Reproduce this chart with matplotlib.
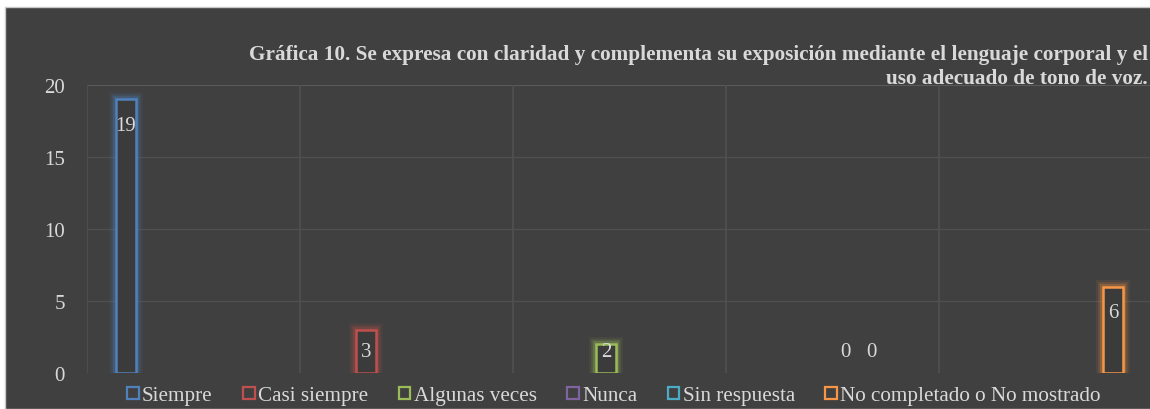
import matplotlib.pyplot as plt
from matplotlib.patches import Rectangle, Patch

# Datos de la gráfica
categorias = ['Siempre', 'Casi siempre', 'Algunas veces', 'Nunca',
              'Sin respuesta', 'No completado o No mostrado']
valores = [19, 3, 2, 0, 0, 6]
colores = ['#4F81BD', '#C0504D', '#9BBB59', '#8064A2', '#4BACC6', '#F79646']
posiciones = [0.183, 1.31, 2.437, 3.563, 3.685, 4.817]
titulo = ('Gráfica 10. Se expresa con claridad y complementa su exposición '
          'mediante el lenguaje corporal y el\nuso adecuado de tono de voz.')

fondo = '#404040'
texto = '#d9d9d9'
plt.rcParams['font.family'] = ['Liberation Serif', 'DejaVu Serif']

fig = plt.figure(figsize=(11.5, 4.1), dpi=100)
fig.patch.set_facecolor('white')
fig.patches.append(Rectangle((5 / 1150, 0), 1, (410 - 8) / 410, transform=fig.transFigure,
                             facecolor=fondo, edgecolor='#c8c8c8', linewidth=1, zorder=-5))

ax = fig.add_axes([87 / 1150, 36 / 410, 1063 / 1150, 288 / 410])
ax.set_facecolor(fondo)
ax.set_xlim(0, 1063 / 213)
ax.set_ylim(0, 20)
for s in ax.spines.values():
    s.set_visible(False)

# Rejilla
for y in [5, 10, 15]:
    ax.axhline(y, color='#4f4f4f', linewidth=1, zorder=1)
ax.axhline(20, color='#5a5a5a', linewidth=1.5, zorder=1)
for x in range(0, 5):
    ax.axvline(x, color='#505050', linewidth=1.2, zorder=1)

ax.set_yticks([0, 5, 10, 15, 20])
ax.set_yticklabels(['0', '5', '10', '15', '20'], fontsize=15, color=texto)
ax.tick_params(axis='y', length=0, pad=16)
ax.set_xticks([])

ancho = 0.09
for x, v, c in zip(posiciones, valores, colores):
    if v > 0:
        # brillo alrededor del contorno
        for lw, a in [(10, 0.08), (7, 0.14), (4.5, 0.25)]:
            ax.bar(x, v, width=ancho, fill=False, edgecolor=c, linewidth=lw,
                   alpha=a, zorder=2)
        ax.bar(x, v, width=ancho, facecolor='#3b3b3b', edgecolor=c,
               linewidth=1.8, zorder=3)
    ax.text(x, max(v - 1.8, 1.5), str(v), ha='center', va='center',
            fontsize=15, color=texto, zorder=4)

fig.text(1148 / 1150, 1 - 67 / 410, titulo, ha='right', va='center', fontsize=15.3,
         fontweight='bold', color=texto, linespacing=1.25)

handles = [Patch(facecolor='none', edgecolor=c, linewidth=1.6) for c in colores]
leg = fig.legend(handles, categorias, loc='center', bbox_to_anchor=(614 / 1150, 1 - 397 / 410),
                 ncol=6, frameon=False, fontsize=15.2, handlelength=0.55, handleheight=0.55,
                 handletextpad=0.15, columnspacing=1.45, borderpad=0)
for t in leg.get_texts():
    t.set_color(texto)

fig.savefig('out.png', dpi=100, facecolor=fig.get_facecolor())
